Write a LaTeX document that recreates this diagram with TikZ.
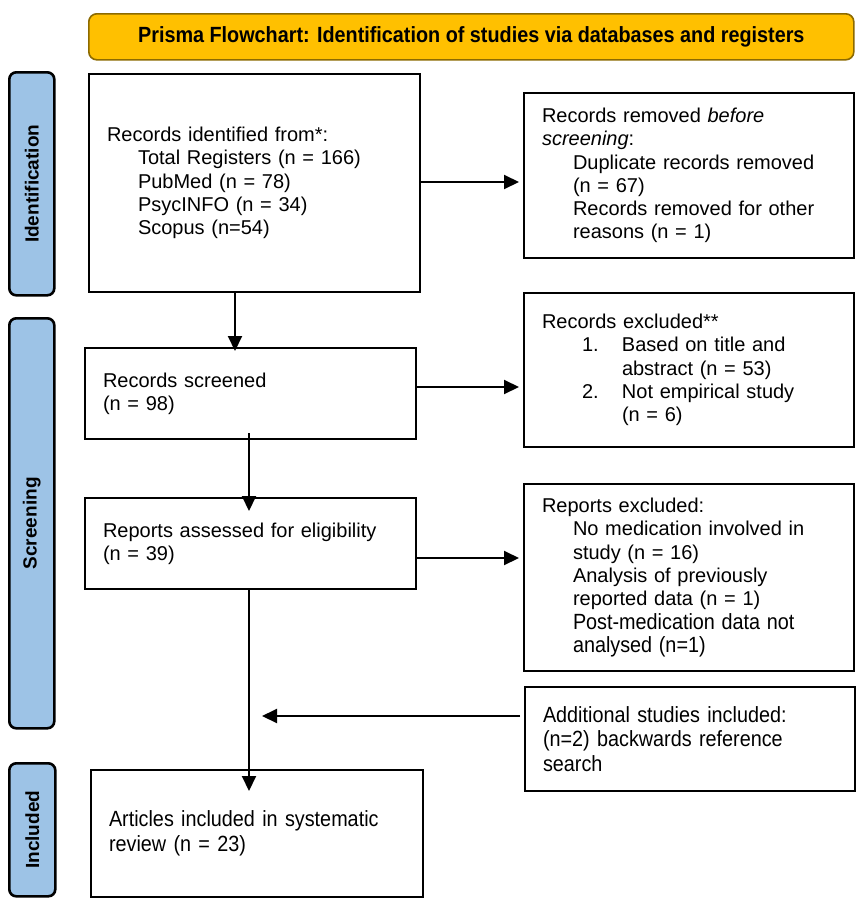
\documentclass[tikz,border=0pt]{standalone}
\usepackage{fontspec}
\setmainfont{Liberation Sans}
\newfontfamily\narrowfont[FakeStretch=0.9]{Liberation Sans}
\usetikzlibrary{arrows.meta}
\definecolor{titlefill}{HTML}{FFC000}
\definecolor{titledraw}{HTML}{8C6A00}
\definecolor{barfill}{HTML}{9DC3E6}
\tikzset{
  box/.style={draw=black, line width=2pt, rectangle, anchor=north west, inner xsep=18pt, inner ysep=0pt, align=left, font=\fontsize{20}{23.3}\selectfont},
  nbox/.style={box, font=\narrowfont\fontsize{22}{24.5}\selectfont},
  sidebar/.style={draw=black, fill=barfill, line width=2.6pt, rounded corners=7pt, anchor=north west, inner sep=0pt},
  bartext/.style={rotate=90, font=\bfseries\fontsize{19}{22}\selectfont},
  arr/.style={line width=2pt, -{Triangle[length=15pt,width=14pt]}},
  plain/.style={line width=2pt}
}
\newcommand{\ind}{\hspace*{31pt}}
\begin{document}
\begin{tikzpicture}[x=1pt,y=-1pt]
\useasboundingbox (0,0) rectangle (857,902);
% title
\node[draw=titledraw, fill=titlefill, line width=1.6pt, rounded corners=8pt, anchor=north west, minimum width=765pt, minimum height=46pt, inner sep=0pt, font=\narrowfont\bfseries\fontsize{22}{24}\selectfont] (title) at (88,13) {Prisma Flowchart: Identification of studies via databases and registers};
% side bars
\node[sidebar, minimum width=45pt, minimum height=223pt] (idbar) at (8,71) {};
\node[bartext] (idtext) at (idbar.center) {Identification};
\node[sidebar, minimum width=45pt, minimum height=410pt] (scbar) at (8,317) {};
\node[bartext] (sctext) at (scbar.center) {Screening};
\node[sidebar, minimum width=46pt, minimum height=133pt] (inbar) at (8,762) {};
\node[bartext] (intext) at (inbar.center) {Included};
% boxes
\node[box, minimum width=331pt, minimum height=218pt, text width=295pt] (ident) at (88,73) {Records identified from*:\\
\ind Total Registers (n = 166)\\
\ind PubMed (n = 78)\\
\ind PsycINFO (n = 34)\\
\ind Scopus (n=54)};
\node[box, minimum width=330pt, minimum height=165pt, text width=294pt] (removed) at (523,92) {Records removed \textit{before}\\
\textit{screening}:\\
\ind Duplicate records removed\\
\ind (n = 67)\\
\ind Records removed for other\\
\ind reasons (n = 1)};
\node[box, minimum width=331pt, minimum height=91pt, text width=295pt] (screened) at (84,347) {Records screened\\(n = 98)\\[-4pt]};
\node[box, minimum width=330pt, minimum height=154pt, text width=294pt] (excluded) at (523,292) {Records excluded**\\
\hspace*{40pt}\makebox[40pt][l]{1.}Based on title and\\
\hspace*{80pt}abstract (n = 53)\\
\hspace*{40pt}\makebox[40pt][l]{2.}Not empirical study\\
\hspace*{80pt}(n = 6)};
\node[box, minimum width=331pt, minimum height=91pt, text width=295pt] (assessed) at (84,497) {Reports assessed for eligibility\\(n = 39)\\[-4pt]};
\node[box, minimum width=330pt, minimum height=187pt, text width=294pt] (repexcl) at (523,483) {Reports excluded:\\
\ind No medication involved in\\
\ind study (n = 16)\\
\ind Analysis of previously\\
\ind reported data (n = 1)\\
\ind {\narrowfont\fontsize{22}{23.3}\selectfont Post-medication data not}\\
\ind {\narrowfont\fontsize{22}{23.3}\selectfont analysed (n=1)}};
\node[nbox, minimum width=330pt, minimum height=104pt, text width=294pt] (additional) at (524,686) {Additional studies included:\\
(n=2) backwards reference\\
search\\[4pt]};
\node[nbox, minimum width=332pt, minimum height=127pt, text width=296pt] (articles) at (90,769) {Articles included in systematic\\
review (n = 23)};
% helper coordinates
\coordinate (c1) at (235,0);
\coordinate (c2) at (249,0);
\coordinate (r1) at (0,182);
\coordinate (r2) at (0,387);
\coordinate (r3) at (0,558);
\coordinate (r4) at (0,716);
% connectors
\draw[arr] (ident.east |- r1) -- ([xshift=-4pt]removed.west |- r1);
\draw[arr] (ident.south -| c1) -- ([yshift=-4pt]screened.north -| c1);
\draw[arr] (screened.east |- r2) -- ([xshift=-4pt]excluded.west |- r2);
\draw[arr] ([yshift=7pt]screened.south -| c2) -- ([yshift=-14pt]assessed.north -| c2);
\draw[arr] (assessed.east |- r3) -- ([xshift=-4pt]repexcl.west |- r3);
\draw[arr] (assessed.south -| c2) -- ([yshift=-22pt]articles.north -| c2);
\draw[arr] ([xshift=-4pt]additional.west |- r4) -- ([xshift=13pt]c2 |- r4);
\end{tikzpicture}
\end{document}
